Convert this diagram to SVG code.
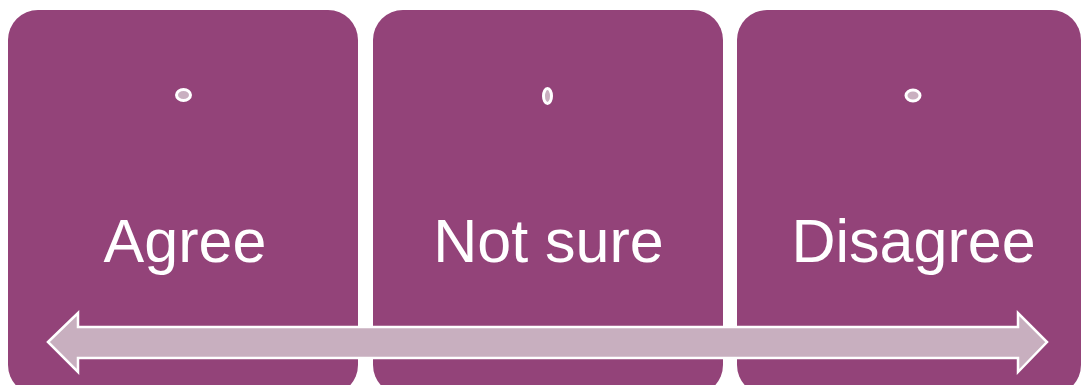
<svg xmlns="http://www.w3.org/2000/svg" width="1081" height="385" viewBox="0 0 1081 385">
<style>
.box{fill:#934379}
.dot{fill:#c9b0c0;stroke:#fff;stroke-width:3}
.lbl{font-family:"Liberation Sans",Arial,sans-serif;font-size:61px;fill:#fff;text-anchor:middle}
</style>
<rect width="1081" height="385" fill="#fff"/>
<g id="node-agree">
<rect class="box" x="8" y="10" width="350" height="385" rx="30"/>
<ellipse class="dot" cx="183.5" cy="95" rx="7" ry="5.5"/>
<text class="lbl" x="185" y="262">Agree</text>
</g>
<g id="node-notsure">
<rect class="box" x="373" y="10" width="350" height="385" rx="30"/>
<ellipse class="dot" cx="547.5" cy="96" rx="4" ry="7.5"/>
<text class="lbl" x="548.5" y="262">Not sure</text>
</g>
<g id="node-disagree">
<rect class="box" x="737" y="10" width="344" height="385" rx="30"/>
<ellipse class="dot" cx="913" cy="95.5" rx="7" ry="5.5"/>
<text class="lbl" x="913.5" y="262">Disagree</text>
</g>
<g id="connectors">
<polygon points="48,342 78,313 78,327 1018,327 1018,313 1047,342 1018,372 1018,358 78,358 78,372" fill="#c8afbf" stroke="#fff" stroke-width="2.5" stroke-linejoin="miter"/>
</g>
</svg>
